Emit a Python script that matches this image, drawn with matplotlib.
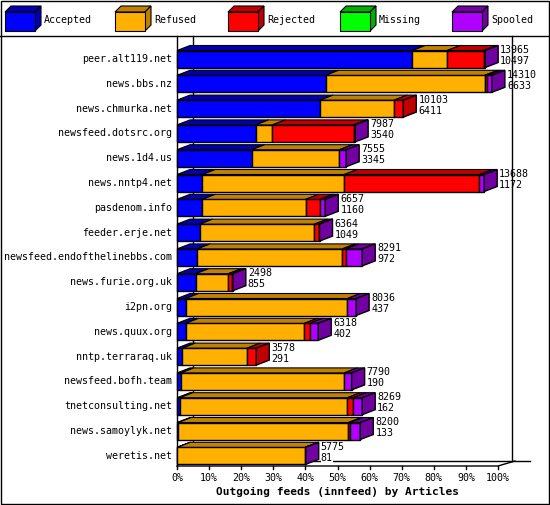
import matplotlib
matplotlib.use('Agg')
import matplotlib.pyplot as plt
from matplotlib.patches import Polygon, Rectangle

# feed names and segment widths (percent)
feeds = ['peer.alt119.net', 'news.bbs.nz', 'news.chmurka.net', 'newsfeed.dotsrc.org',
         'news.1d4.us', 'news.nntp4.net', 'pasdenom.info', 'feeder.erje.net',
         'newsfeed.endofthelinebbs.com', 'news.furie.org.uk', 'i2pn.org', 'news.quux.org',
         'nntp.terraraq.uk', 'newsfeed.bofh.team', 'tnetconsulting.net', 'news.samoylyk.net',
         'weretis.net']
accepted = [73.3, 46.3, 44.6, 24.5, 23.3, 7.9, 7.9, 7.1, 6.3, 5.8, 2.7, 2.7, 1.7, 1.2, 0.9, 0.4, 0.1]
refused = [10.9, 49.6, 23.1, 5.2, 27.3, 44.2, 32.2, 35.7, 45.2, 10.2, 50.4, 37.0, 20.2, 50.9, 52.2, 53.0, 39.8]
rejected = [11.3, 0.8, 2.8, 25.3, 0.0, 42.1, 4.5, 1.4, 1.1, 1.2, 0.0, 1.7, 2.8, 0.0, 1.8, 0.6, 0.0]
missing = [0] * 17
spooled = [0.5, 1.4, 0.0, 0.5, 2.1, 1.5, 1.6, 0.2, 5.1, 0.2, 2.7, 2.6, 0.0, 2.3, 2.8, 3.1, 0.2]
totals = [13965, 14310, 10103, 7987, 7555, 13688, 6657, 6364, 8291, 2498, 8036, 6318, 3578, 7790, 8269, 8200, 5775]
acc_count = [10497, 6633, 6411, 3540, 3345, 1172, 1160, 1049, 972, 855, 437, 402, 291, 190, 162, 133, 81]

names = ['Accepted', 'Refused', 'Rejected', 'Missing', 'Spooled']
colors = ['#0000ff', '#ffb000', '#ff0000', '#00ff00', '#b000ff']
tops = ['#0000b0', '#c08000', '#c00000', '#00b000', '#7000a0']

W, H = 550, 505
fig = plt.figure(figsize=(W / 100, H / 100), dpi=100, facecolor='white')
px = 3.21  # pixels per percent
rowpx = 24.8
ax = fig.add_axes([0, 0, 1, 1])
ax.set_xlim(-177 / px, (W - 177) / px)
ax.set_ylim((H - 59) / rowpx, -59 / rowpx)
ax.axis('off')

dx = 13 / px
dy = 5 / rowpx
bh = 17 / rowpx
mono = 'DejaVu Sans Mono'
fs = 7.2

# frame: back wall, left axis, floor
top_y = -23 / rowpx
floor_f = (466 - 59) / rowpx
floor_b = (461 - 59) / rowpx
ax.plot([0, 0], [top_y, floor_f], color='black', lw=1)
ax.plot([dx + 1, dx + 1], [top_y, floor_b], color='black', lw=1)
ax.plot([104.5, 104.5], [top_y, floor_b], color='black', lw=1)
ax.plot([0, 100, 100 + 1.3 * dx], [floor_f, floor_f, floor_b], color='black', lw=1)
ax.plot([dx, 110], [floor_b, floor_b], color='black', lw=1)
for t in range(0, 101, 10):
    ax.plot([t, t], [floor_f, floor_f + 3 / rowpx], color='black', lw=1)
    ax.text(t, floor_f + 12 / rowpx, f'{t}%', ha='center', va='center', fontsize=fs, family=mono)
ax.text(50, floor_f + 26 / rowpx, 'Outgoing feeds (innfeed) by Articles', ha='center', va='center',
        fontsize=8, family=mono, weight='bold')

series = [accepted, refused, rejected, missing, spooled]
for i, feed in enumerate(feeds):
    y0 = i - bh / 2
    y1 = i + bh / 2
    left = 0
    for s, vals in enumerate(series):
        w = vals[i]
        if w <= 0:
            continue
        ax.add_patch(Rectangle((left, y0), w, bh, facecolor=colors[s], edgecolor='black', lw=1, zorder=3))
        ax.add_patch(Polygon([(left, y0), (left + dx, y0 - dy), (left + w + dx, y0 - dy), (left + w, y0)],
                             facecolor=tops[s], edgecolor='black', lw=0.8, zorder=3))
        left += w
        last = s
    ax.add_patch(Polygon([(left, y0), (left + dx, y0 - dy), (left + dx, y1 - dy), (left, y1)],
                         facecolor=tops[last], edgecolor='black', lw=1, zorder=3))
    tx = left + dx + 2 / px
    ax.text(tx, i - 9 / rowpx, str(totals[i]), ha='left', va='center', fontsize=fs, family=mono, zorder=4)
    ax.text(tx, i + 2 / rowpx, str(acc_count[i]), ha='left', va='center', fontsize=fs, family=mono, zorder=4,
            bbox=dict(facecolor='white', edgecolor='none', pad=0) if i == len(feeds) - 1 else None)
    ax.text(-5 / px, i, feed, ha='right', va='center', fontsize=fs, family=mono)

# legend and outer border in pixel coords
ov = fig.add_axes([0, 0, 1, 1], facecolor='none')
ov.set_xlim(0, W)
ov.set_ylim(H, 0)
ov.axis('off')
ov.add_patch(Rectangle((0.5, 0.5), W - 1.5, H - 1.5, fill=False, edgecolor='black', lw=1))
ov.plot([0, W], [36, 36], color='black', lw=1)
lx = [5, 115, 228, 340, 452]
for k, name in enumerate(names):
    x = lx[k]
    ov.add_patch(Polygon([(x, 12), (x + 6, 6), (x + 36, 6), (x + 30, 12)], facecolor=tops[k], edgecolor='black', lw=0.8))
    ov.add_patch(Polygon([(x + 30, 12), (x + 36, 6), (x + 36, 25), (x + 30, 31)], facecolor=tops[k], edgecolor='black', lw=0.8))
    ov.add_patch(Rectangle((x, 12), 30, 19, facecolor=colors[k], edgecolor='black', lw=0.8))
    ov.text(x + 39, 20, name, ha='left', va='center', fontsize=fs, family=mono)

fig.savefig('out.png', dpi=100, facecolor='white')
